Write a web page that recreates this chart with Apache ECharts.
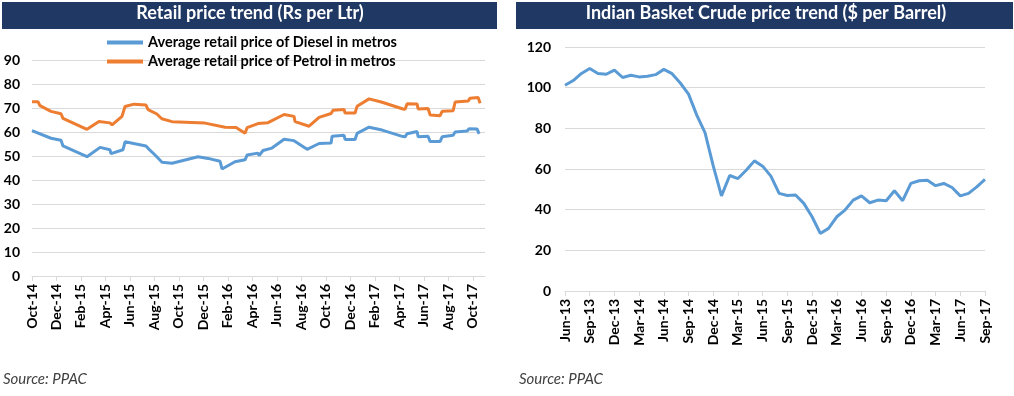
<!DOCTYPE html>
<html>
<head>
<meta charset="utf-8">
<script src="https://cdn.jsdelivr.net/npm/echarts@6/dist/echarts.min.js"></script>
<style>
  html, body { margin: 0; padding: 0; background: #fff; }
  #chart { width: 1014px; height: 396px; }
</style>
</head>
<body>
<div id="chart"></div>
<script>
// left chart: retail prices, x = months since Oct-14
const retailTickLabels = ['Oct-14', 'Dec-14', 'Feb-15', 'Apr-15', 'Jun-15', 'Aug-15', 'Oct-15', 'Dec-15', 'Feb-16', 'Apr-16',
  'Jun-16', 'Aug-16', 'Oct-16', 'Dec-16', 'Feb-17', 'Apr-17', 'Jun-17', 'Aug-17', 'Oct-17'];

const dieselMonth = [0, 1.55, 2.37, 2.53, 4.49, 5.56, 6.37, 6.45, 7.43, 7.6, 9.31, 9.48, 10.05, 10.62, 11.44, 13.56, 14.38, 15.36, 15.52, 16.58,
  17.4, 17.57, 18.46, 18.55, 18.87, 19.6, 20.59, 21.4, 22.47, 23.45, 24.43, 24.51, 25.49, 25.57, 26.39, 26.55, 27.53, 28.6, 30.3, 30.47,
  30.64, 31.45, 31.54, 32.35, 32.52, 33.33, 33.5, 34.4, 34.56, 35.54, 35.7, 36.36, 36.52];
const dieselPrice = [60.6, 57.4, 56.6, 54.2, 49.7, 53.6, 52.6, 51.0, 52.6, 55.9, 54.2, 53.2, 50.4, 47.4, 47.0, 49.7, 49.0, 47.8, 44.6, 47.6,
  48.4, 50.4, 51.2, 50.2, 52.3, 53.3, 57.0, 56.4, 52.8, 55.2, 55.4, 58.2, 58.6, 56.9, 56.9, 59.4, 62.0, 60.8, 58.1, 58.0,
  59.3, 60.2, 58.0, 58.2, 56.0, 56.0, 58.0, 58.6, 60.0, 60.4, 61.4, 61.2, 59.2];

const petrolMonth = [0, 0.49, 0.65, 1.55, 2.37, 2.53, 4.49, 5.47, 6.37, 6.54, 7.35, 7.6, 8.33, 9.31, 9.48, 10.2, 10.6, 11.44, 14.13, 15.77,
  16.67, 17.4, 17.57, 18.46, 19.28, 20.59, 21.4, 21.49, 22.63, 23.45, 24.43, 24.59, 25.49, 25.57, 26.39, 26.55, 27.53, 28.6, 30.3, 30.47,
  30.64, 31.45, 31.54, 32.35, 32.52, 33.33, 33.5, 34.4, 34.56, 35.62, 35.78, 36.44, 36.6];
const petrolPrice = [72.6, 72.6, 71.0, 68.6, 67.6, 65.7, 61.1, 64.4, 63.8, 63.0, 66.5, 70.6, 71.6, 71.2, 69.3, 67.5, 65.5, 64.3, 63.7, 62.0,
  61.9, 59.5, 61.8, 63.5, 63.9, 67.3, 66.5, 64.3, 62.4, 66.1, 67.7, 69.1, 69.4, 67.9, 67.9, 70.7, 73.8, 72.4, 69.6, 69.5,
  71.8, 71.7, 69.6, 69.8, 67.1, 66.8, 68.6, 68.9, 72.5, 72.9, 74.1, 74.4, 72.0];

// right chart: monthly crude price
const crudeMonths = ['Jun-13', 'Jul-13', 'Aug-13', 'Sep-13', 'Oct-13', 'Nov-13', 'Dec-13', 'Jan-14', 'Feb-14', 'Mar-14',
  'Apr-14', 'May-14', 'Jun-14', 'Jul-14', 'Aug-14', 'Sep-14', 'Oct-14', 'Nov-14', 'Dec-14', 'Jan-15',
  'Feb-15', 'Mar-15', 'Apr-15', 'May-15', 'Jun-15', 'Jul-15', 'Aug-15', 'Sep-15', 'Oct-15', 'Nov-15',
  'Dec-15', 'Jan-16', 'Feb-16', 'Mar-16', 'Apr-16', 'May-16', 'Jun-16', 'Jul-16', 'Aug-16', 'Sep-16',
  'Oct-16', 'Nov-16', 'Dec-16', 'Jan-17', 'Feb-17', 'Mar-17', 'Apr-17', 'May-17', 'Jun-17', 'Jul-17',
  'Aug-17', 'Sep-17'];
const crudePrice = [101.2, 103.5, 107.0, 109.4, 107.0, 106.6, 108.6, 105.0, 106.1, 105.3,
  105.6, 106.4, 109.0, 106.9, 102.3, 96.8, 86.5, 77.9, 61.5, 46.8,
  56.8, 55.3, 59.4, 64.0, 61.4, 56.5, 48.0, 47.0, 47.2, 43.1,
  36.5, 28.3, 30.8, 36.5, 39.8, 44.7, 46.8, 43.4, 44.7, 44.4,
  49.3, 44.4, 52.9, 54.2, 54.5, 51.8, 52.9, 50.9, 46.8, 48.0,
  51.2, 54.9];

const FONT = 'Lato';
const navy = '#203864';
const gridGray = '#d9d9d9';

const chart = echarts.init(document.getElementById('chart'));

const axisLabelStyle = { color: '#000', fontWeight: 'bold', fontSize: 14, fontFamily: FONT };

const option = {
  animation: false,
  graphic: [
    { type: 'rect', shape: { x: 2, y: 2, width: 495, height: 27 }, style: { fill: navy }, z: -1 },
    { type: 'rect', shape: { x: 516, y: 2, width: 497, height: 27 }, style: { fill: navy }, z: -1 },
    { type: 'text', left: 3, top: 372, style: { text: 'Source: PPAC', fontStyle: 'italic', fontSize: 15, fontFamily: FONT, fill: '#404040' } },
    { type: 'text', left: 519, top: 372, style: { text: 'Source: PPAC', fontStyle: 'italic', fontSize: 15, fontFamily: FONT, fill: '#404040' } }
  ],
  title: [
    {
      text: 'Retail price trend (Rs per Ltr)', left: 250, top: 4, textAlign: 'center', padding: 0,
      textStyle: { color: '#fff', fontWeight: 'bold', fontSize: 18, fontFamily: FONT }
    },
    {
      text: 'Indian Basket Crude price trend ($ per Barrel)', left: 766, top: 4, textAlign: 'center', padding: 0,
      textStyle: { color: '#fff', fontWeight: 'bold', fontSize: 18, fontFamily: FONT }
    }
  ],
  legend: {
    orient: 'vertical', left: 107, top: 35, padding: 0, itemGap: 4,
    icon: 'rect', itemWidth: 36, itemHeight: 4,
    textStyle: { color: '#000', fontWeight: 'bold', fontSize: 14.5, fontFamily: FONT },
    data: ['Average retail price of Diesel in metros', 'Average retail price of Petrol in metros']
  },
  grid: [
    { left: 32, top: 60, width: 453, height: 216 },
    { left: 565, top: 47, width: 420, height: 244 }
  ],
  xAxis: [
    {
      type: 'value', gridIndex: 0, min: 0, max: 37,
      axisLine: { lineStyle: { color: gridGray } },
      axisTick: { customValues: retailTickLabels.map((_, i) => i * 2), length: 5, lineStyle: { color: gridGray } },
      splitLine: { show: false },
      axisLabel: Object.assign({
        customValues: retailTickLabels.map((_, i) => i * 2),
        rotate: 90, margin: 8,
        formatter: v => retailTickLabels[v / 2] || ''
      }, axisLabelStyle)
    },
    {
      type: 'category', gridIndex: 1, data: crudeMonths, boundaryGap: false,
      axisLine: { lineStyle: { color: gridGray } },
      axisTick: { interval: 2, length: 5, lineStyle: { color: gridGray } },
      axisLabel: Object.assign({ interval: 2, rotate: 90, margin: 8 }, axisLabelStyle)
    }
  ],
  yAxis: [
    {
      type: 'value', gridIndex: 0, min: 0, max: 90, interval: 10,
      axisLine: { show: false }, axisTick: { show: false },
      splitLine: { lineStyle: { color: gridGray } },
      axisLabel: Object.assign({ margin: 12 }, axisLabelStyle)
    },
    {
      type: 'value', gridIndex: 1, min: 0, max: 120, interval: 20,
      axisLine: { show: false }, axisTick: { show: false },
      splitLine: { lineStyle: { color: gridGray } },
      axisLabel: Object.assign({ margin: 14 }, axisLabelStyle)
    }
  ],
  series: [
    {
      name: 'Average retail price of Diesel in metros', type: 'line', xAxisIndex: 0, yAxisIndex: 0,
      showSymbol: false, color: '#5b9bd5', lineStyle: { width: 3, color: '#5b9bd5' },
      data: dieselMonth.map((m, i) => [m, dieselPrice[i]])
    },
    {
      name: 'Average retail price of Petrol in metros', type: 'line', xAxisIndex: 0, yAxisIndex: 0,
      showSymbol: false, color: '#ed7d31', lineStyle: { width: 3, color: '#ed7d31' },
      data: petrolMonth.map((m, i) => [m, petrolPrice[i]])
    },
    {
      name: 'Crude', type: 'line', xAxisIndex: 1, yAxisIndex: 1,
      showSymbol: false, color: '#5b9bd5', lineStyle: { width: 3, color: '#5b9bd5' },
      data: crudePrice
    }
  ]
};

chart.setOption(option);
</script>
</body>
</html>
